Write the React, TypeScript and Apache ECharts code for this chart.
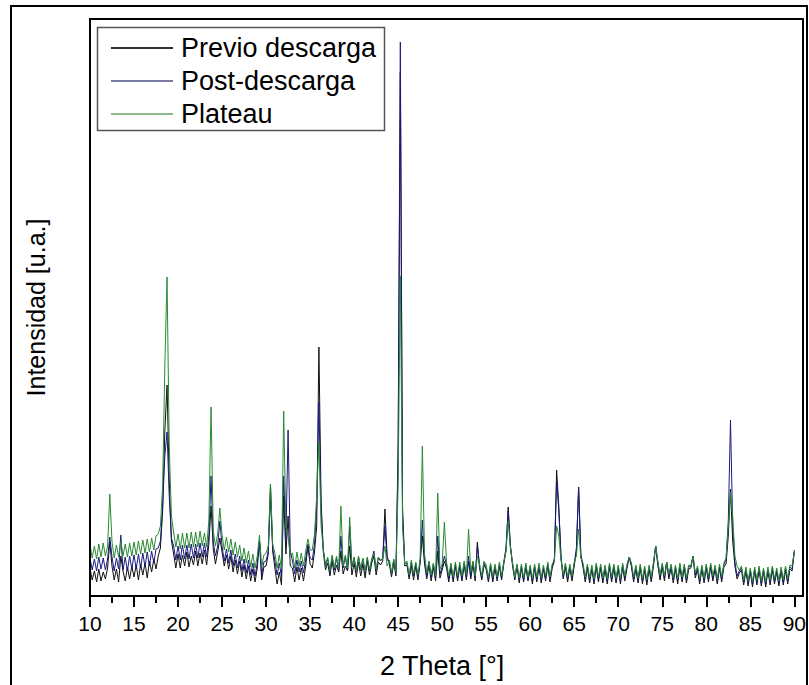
import React, { useEffect, useRef } from "react";
import * as echarts from "echarts";

// 2θ sampling of the digitised patterns: first angle and step (degrees)
const START_ANGLE = 10;
const ANGLE_STEP = 0.25;

const seriesNames = ["Previo descarga", "Post-descarga", "Plateau"];
const seriesColors = ["#111111", "#1a1a80", "#2a8a32"];
const legendLineColors = ["#333333", "#7a7aa6", "#8cb88c"];

const xTickLabels = ["10", "15", "20", "25", "30", "35", "40", "45", "50", "55", "60", "65", "70", "75", "80", "85", "90"];

// Intensity (arbitrary units) every 0.25° from 10° to 90°
const previo = [
  28, 16, 25, 14, 27, 15, 24, 17, 28, 54, 30, 16, 27, 14, 40, 25, 15, 29, 17, 30, // 10
  19, 31, 16, 32, 21, 33, 18, 35, 24, 37, 27, 40, 48, 85, 165, 211, 115, 55, 42, 28, // 15
  42, 28, 41, 30, 44, 29, 40, 31, 45, 30, 43, 32, 46, 31, 52, 90, 47, 32, 44, 58, // 20
  44, 30, 41, 27, 40, 24, 36, 22, 35, 19, 31, 17, 30, 15, 27, 14, 28, 55, 16, 29, // 25
  30, 42, 112, 45, 28, 12, 24, 11, 100, 42, 80, 30, 28, 14, 29, 16, 28, 15, 30, 50, // 30
  32, 28, 44, 70, 249, 95, 44, 26, 33, 20, 35, 21, 31, 24, 45, 22, 30, 25, 50, 21, // 35
  33, 19, 34, 20, 32, 18, 35, 21, 33, 40, 21, 34, 31, 35, 87, 40, 32, 19, 33, 20, // 40
  140, 524, 80, 30, 31, 17, 30, 16, 30, 16, 33, 60, 32, 17, 31, 15, 29, 15, 45, 18, // 45
  26, 35, 28, 14, 28, 14, 30, 15, 29, 15, 31, 16, 35, 17, 32, 15, 54, 28, 16, 31, // 50
  27, 14, 29, 14, 28, 15, 30, 16, 32, 45, 89, 50, 30, 16, 30, 13, 28, 14, 29, 15, // 55
  27, 12, 28, 14, 29, 13, 27, 15, 30, 14, 28, 35, 126, 90, 38, 17, 29, 14, 28, 15, // 60
  30, 45, 109, 40, 29, 14, 28, 13, 27, 12, 29, 14, 28, 13, 27, 12, 29, 14, 28, 13, // 65
  27, 12, 29, 15, 28, 39, 29, 14, 27, 13, 28, 12, 26, 11, 27, 14, 30, 50, 31, 16, // 70
  29, 15, 34, 17, 28, 13, 27, 12, 29, 14, 28, 13, 27, 28, 40, 18, 26, 12, 27, 13, // 75
  28, 14, 29, 15, 27, 12, 28, 14, 29, 32, 60, 107, 55, 30, 17, 23, 26, 11, 25, 10, // 80
  24, 9, 25, 11, 26, 10, 24, 9, 25, 11, 26, 12, 24, 10, 25, 11, 26, 12, 27, 25, // 85
  44, // 90
];

const postDescarga = [
  38, 26, 37, 25, 39, 27, 38, 26, 37, 59, 39, 25, 38, 27, 61, 26, 39, 25, 40, 27, // 10
  41, 27, 42, 28, 43, 29, 44, 30, 45, 33, 47, 48, 55, 90, 140, 164, 100, 58, 50, 36, // 15
  50, 36, 51, 37, 51, 37, 52, 38, 52, 38, 53, 39, 53, 39, 60, 120, 54, 40, 50, 75, // 20
  50, 35, 47, 33, 46, 30, 42, 28, 40, 25, 37, 23, 36, 21, 33, 20, 33, 55, 21, 34, // 25
  35, 45, 100, 48, 35, 21, 33, 19, 120, 55, 166, 45, 35, 22, 36, 24, 35, 23, 37, 52, // 30
  38, 36, 52, 90, 194, 85, 47, 30, 37, 24, 39, 26, 38, 25, 60, 28, 39, 26, 70, 29, // 35
  38, 24, 39, 26, 37, 23, 38, 25, 36, 45, 26, 38, 35, 38, 70, 36, 35, 22, 36, 23, // 40
  150, 554, 90, 32, 33, 19, 34, 20, 33, 19, 35, 76, 35, 20, 34, 19, 32, 18, 60, 22, // 45
  29, 40, 31, 17, 31, 17, 32, 18, 31, 17, 33, 19, 40, 20, 34, 18, 50, 30, 18, 33, // 50
  29, 16, 31, 17, 30, 17, 32, 18, 34, 48, 85, 50, 32, 18, 31, 16, 30, 16, 31, 17, // 55
  29, 15, 30, 17, 31, 16, 29, 18, 32, 17, 30, 38, 115, 85, 40, 19, 31, 17, 30, 18, // 60
  32, 48, 109, 42, 31, 17, 30, 16, 29, 15, 31, 17, 30, 16, 29, 15, 31, 17, 30, 16, // 65
  29, 15, 31, 18, 30, 39, 31, 17, 29, 16, 30, 15, 28, 14, 29, 17, 32, 50, 33, 19, // 70
  31, 18, 34, 20, 30, 16, 29, 15, 31, 17, 30, 16, 29, 30, 40, 21, 28, 15, 29, 16, // 75
  30, 17, 31, 18, 29, 15, 30, 17, 31, 37, 75, 176, 70, 34, 20, 25, 28, 14, 27, 13, // 80
  26, 12, 27, 14, 28, 13, 26, 12, 27, 14, 28, 15, 26, 13, 27, 14, 28, 15, 29, 27, // 85
  46, // 90
];

const plateau = [
  51, 38, 50, 37, 52, 39, 53, 40, 50, 102, 54, 38, 51, 39, 55, 40, 52, 39, 53, 40, // 10
  54, 41, 55, 42, 56, 43, 57, 44, 58, 46, 60, 62, 70, 110, 230, 319, 150, 80, 64, 49, // 15
  62, 47, 63, 48, 63, 48, 64, 49, 64, 49, 65, 50, 63, 49, 75, 189, 65, 50, 62, 88, // 20
  61, 46, 59, 44, 57, 41, 54, 39, 51, 35, 48, 33, 45, 29, 42, 28, 40, 61, 29, 41, // 25
  43, 50, 112, 52, 43, 28, 41, 27, 185, 70, 60, 40, 43, 28, 44, 30, 43, 30, 45, 57, // 30
  46, 46, 62, 100, 154, 70, 46, 31, 39, 25, 41, 28, 40, 27, 90, 30, 41, 28, 79, 29, // 35
  39, 25, 40, 27, 38, 24, 39, 26, 37, 42, 27, 39, 36, 37, 50, 30, 36, 23, 37, 24, // 40
  110, 320, 70, 32, 35, 21, 36, 22, 34, 21, 37, 150, 42, 23, 35, 21, 33, 20, 103, 27, // 45
  32, 74, 34, 20, 33, 19, 34, 20, 34, 20, 35, 21, 67, 24, 35, 20, 40, 32, 20, 35, // 50
  31, 18, 33, 19, 32, 19, 34, 20, 34, 45, 75, 48, 33, 19, 32, 18, 32, 18, 33, 19, // 55
  31, 17, 32, 19, 33, 18, 31, 20, 34, 19, 32, 35, 70, 60, 36, 21, 33, 19, 32, 20, // 60
  34, 40, 67, 38, 33, 19, 32, 18, 31, 17, 33, 19, 32, 18, 31, 17, 33, 19, 32, 18, // 65
  31, 17, 33, 20, 32, 39, 33, 19, 31, 18, 32, 17, 30, 16, 31, 19, 34, 50, 35, 21, // 70
  33, 20, 34, 22, 32, 18, 31, 17, 33, 19, 32, 18, 31, 30, 40, 23, 30, 17, 31, 18, // 75
  32, 19, 33, 20, 31, 17, 32, 19, 33, 38, 70, 104, 80, 40, 30, 26, 30, 16, 29, 15, // 80
  28, 14, 29, 16, 30, 15, 28, 14, 29, 16, 30, 17, 28, 15, 29, 16, 30, 17, 31, 30, // 85
  44, // 90
];

const FONT = "'Liberation Sans', Arial, Helvetica, sans-serif";

export default function App() {
  const ref = useRef<HTMLDivElement>(null);

  useEffect(() => {
    document.body.style.margin = "0";
    const chart = echarts.init(ref.current as HTMLDivElement, null, { renderer: "svg" });
    const toPairs = (arr: number[]) => arr.map((v, i) => [START_ANGLE + i * ANGLE_STEP, v]);
    const allSeries = [previo, postDescarga, plateau];

    const legendRows = [48, 81, 114];
    const legendGraphics: any[] = [
      {
        type: "rect",
        shape: { x: 97.5, y: 27.5, width: 287, height: 103 },
        style: { fill: "#fff", stroke: "#555", lineWidth: 1.5 },
        z: 20,
      },
    ];
    seriesNames.forEach((name, i) => {
      legendGraphics.push({
        type: "line",
        shape: { x1: 111, y1: legendRows[i], x2: 173, y2: legendRows[i] },
        style: { stroke: legendLineColors[i], lineWidth: 2 },
        z: 21,
      });
      legendGraphics.push({
        type: "text",
        x: 181,
        y: legendRows[i],
        style: {
          text: name,
          fill: "#000",
          font: `27px ${FONT}`,
          textVerticalAlign: "middle",
          verticalAlign: "middle",
        },
        z: 21,
      });
    });

    chart.setOption({
      animation: false,
      backgroundColor: "#fff",
      grid: { left: 90, right: 6, top: 19, bottom: 89, containLabel: false },
      xAxis: {
        type: "value",
        min: 10,
        max: 90,
        interval: 5,
        name: "2 Theta [°]",
        nameLocation: "middle",
        nameGap: 56,
        nameTextStyle: { fontSize: 27, color: "#000", fontFamily: FONT },
        axisLine: { show: true, onZero: false, lineStyle: { color: "#000", width: 2 } },
        axisTick: { show: true, length: 11, inside: false, lineStyle: { color: "#000", width: 2 } },
        minorTick: { show: true, splitNumber: 2, length: 7, lineStyle: { color: "#000", width: 2 } },
        axisLabel: {
          show: true,
          margin: 17,
          fontSize: 21,
          color: "#000",
          fontFamily: FONT,
          showMaxLabel: true,
          showMinLabel: true,
          formatter: (v: number) => {
            const idx = Math.round((v - 10) / 5);
            return xTickLabels[idx] ?? "";
          },
        },
        splitLine: { show: false },
        minorSplitLine: { show: false },
      },
      yAxis: {
        type: "value",
        min: 0,
        max: 577,
        name: "Intensidad [u.a.]",
        nameLocation: "middle",
        nameGap: 42,
        nameRotate: 90,
        nameTextStyle: { fontSize: 25, color: "#000", fontFamily: FONT },
        axisLine: { show: true, lineStyle: { color: "#000", width: 2 } },
        axisTick: { show: false },
        axisLabel: { show: false },
        splitLine: { show: false },
      },
      series: allSeries.map((arr, i) => ({
        name: seriesNames[i],
        type: "line",
        data: toPairs(arr),
        showSymbol: false,
        symbol: "none",
        lineStyle: { color: seriesColors[i], width: 1 },
        itemStyle: { color: seriesColors[i] },
        z: 2 + i,
        silent: true,
      })),
      graphic: [
        {
          type: "rect",
          shape: { x: 90, y: 19, width: 713, height: 577 },
          style: { fill: "none", stroke: "#000", lineWidth: 2 },
          z: 10,
          silent: true,
        },
        {
          type: "rect",
          shape: { x: 11, y: 6, width: 796, height: 700 },
          style: { fill: "none", stroke: "#000", lineWidth: 2 },
          z: 10,
          silent: true,
        },
        ...legendGraphics,
      ],
    });

    return () => chart.dispose();
  }, []);

  return <div ref={ref} style={{ width: 809, height: 685 }} />;
}
